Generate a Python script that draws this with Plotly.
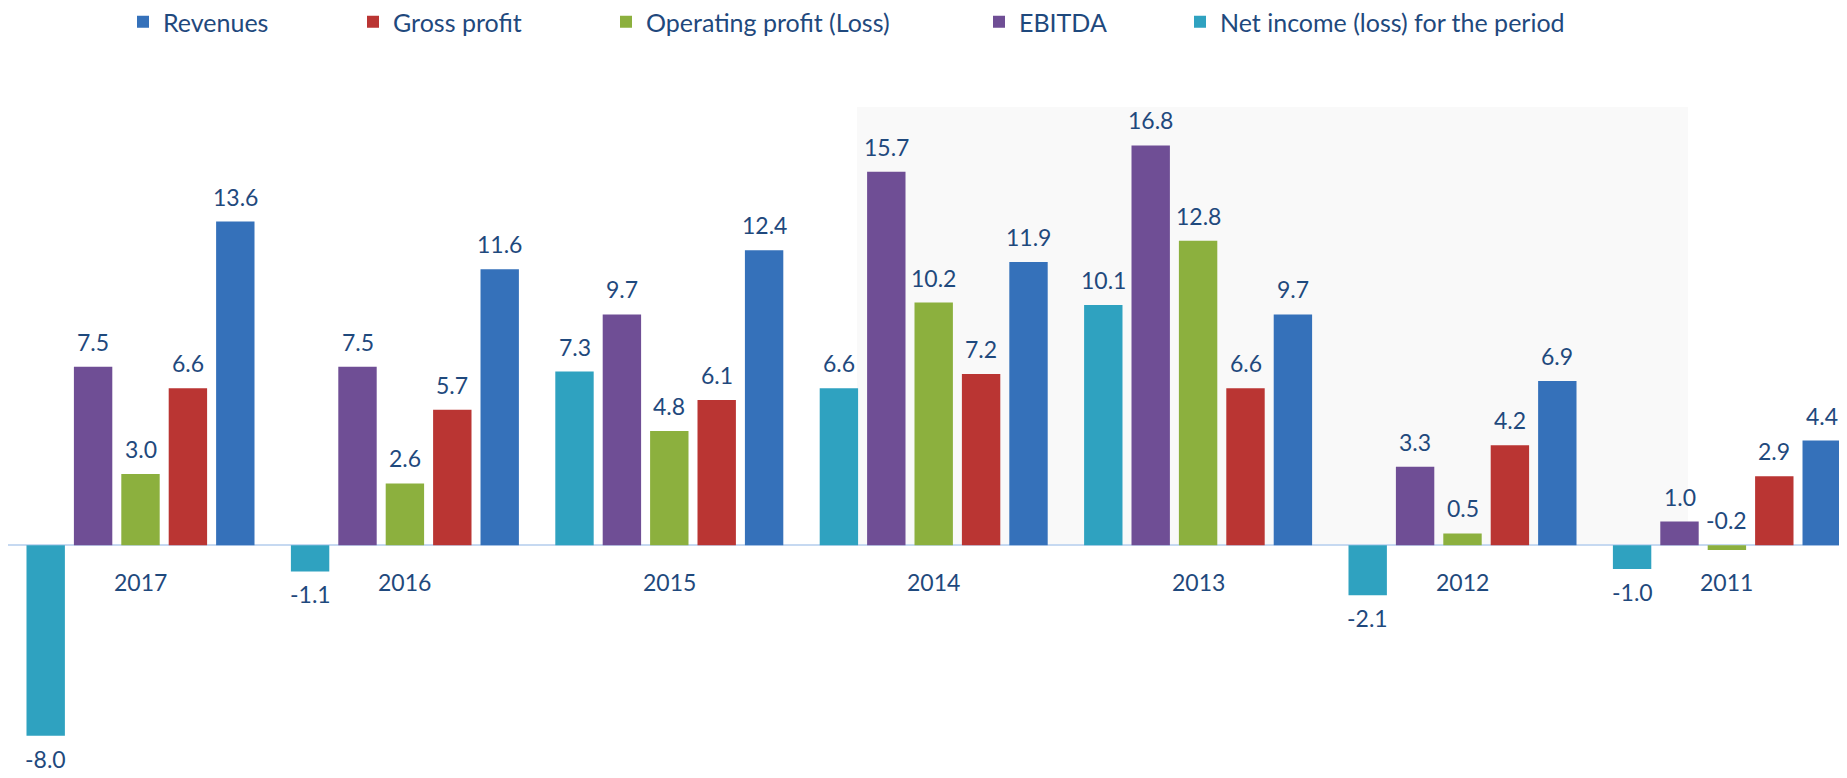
import plotly.graph_objects as go

# data
years = ["2017", "2016", "2015", "2014", "2013", "2012", "2011"]
net_income = [-8.0, -1.1, 7.3, 6.6, 10.1, -2.1, -1.0]
ebitda = [7.5, 7.5, 9.7, 15.7, 16.8, 3.3, 1.0]
operating_profit = [3.0, 2.6, 4.8, 10.2, 12.8, 0.5, -0.2]
gross_profit = [6.6, 5.7, 6.1, 7.2, 6.6, 4.2, 2.9]
revenues = [13.6, 11.6, 12.4, 11.9, 9.7, 6.9, 4.4]

TEXT_COLOR = "#1F497D"
FONT = "Lato"

# (name, values, colour, legend id, legend left edge in px)
series = [
    ("Net income (loss) for the period", net_income, "#2FA2C0", "legend5", 1172),
    ("EBITDA", ebitda, "#6F4E95", "legend4", 971),
    ("Operating profit (Loss)", operating_profit, "#8CB03E", "legend3", 598),
    ("Gross profit", gross_profit, "#BA3533", "legend2", 345),
    ("Revenues", revenues, "#3571BA", "legend", 115),
]

# the page body adds an 8px margin, so the figure is 8px smaller than the window
W, H = 1839, 770
ML, MR, MT, MB = 0, 0, 60, 0
ZERO_PX = 537.3        # zero line, px from top of figure
PX_PER_UNIT = 23.8
CAT_PX = 264.4         # width of one year slot
FIRST_CAT_PX = 132.5   # centre of the first year slot
BARGAP = 0.1036
GROUPGAP = 0.19

plot_w = W - ML - MR
plot_h = H - MT - MB
y_range = [-(H - MB - ZERO_PX) / PX_PER_UNIT, (ZERO_PX - MT) / PX_PER_UNIT]
x_range = [-(FIRST_CAT_PX - ML) / CAT_PX, (W - MR - FIRST_CAT_PX) / CAT_PX]

fig = go.Figure()
for name, vals, color, leg, _ in series:
    fig.add_trace(
        go.Bar(
            x=years,
            y=vals,
            name=name,
            marker_color=color,
            marker_line_width=0,
            legend=leg,
        )
    )

# value labels over each grouped bar; tiny negatives get their label above
# the zero line, like the original
n = len(series)
slot = (1 - BARGAP) / n
for k, (name, vals, color, leg, _) in enumerate(series):
    offset = -(1 - BARGAP) / 2 + slot * (k + 0.5)
    for i, v in enumerate(vals):
        above = v > -0.5
        fig.add_annotation(
            x=i + offset, y=max(v, 0) if above else v, xref="x", yref="y",
            text=f"{v:.1f}",
            showarrow=False,
            yanchor="bottom" if above else "top",
            yshift=9 if above else -7,
            font=dict(family=FONT, size=23, color=TEXT_COLOR),
        )

# year labels sit just under the zero line (x given as category index,
# since "2017" would otherwise be read as a number)
for i, yr in enumerate(years):
    fig.add_annotation(
        x=i, y=0, xref="x", yref="y", text=yr, showarrow=False,
        yanchor="middle", yshift=-37,
        font=dict(family=FONT, size=23, color=TEXT_COLOR),
    )

# faint background panel behind 2014-2012
fig.add_shape(
    type="rect", xref="paper", yref="paper",
    x0=(849 - ML) / plot_w, x1=(1680 - ML) / plot_w,
    y0=(H - MB - ZERO_PX) / plot_h, y1=(H - MB - 99) / plot_h,
    fillcolor="#F9F9F9", line_width=0, layer="below",
)

legends = {}
for name, vals, color, leg, lx in series:
    legends[leg] = dict(
        orientation="h",
        xref="container", yref="container",
        x=lx / W,
        xanchor="left",
        y=1 - 14 / H,
        yanchor="middle",
        font=dict(family=FONT, size=25, color=TEXT_COLOR),
        bgcolor="rgba(0,0,0,0)",
        itemclick=False,
    )

fig.update_layout(
    width=W,
    height=H,
    margin=dict(l=ML, r=MR, t=MT, b=MB, autoexpand=False),
    paper_bgcolor="white",
    plot_bgcolor="rgba(0,0,0,0)",
    barmode="group",
    bargap=BARGAP,
    bargroupgap=GROUPGAP,
    showlegend=True,
    font=dict(family=FONT, color=TEXT_COLOR),
    xaxis=dict(type="category", range=x_range,
               showticklabels=False, showgrid=False, showline=False, ticks=""),
    yaxis=dict(
        range=y_range, showticklabels=False, showgrid=False,
        zeroline=True, zerolinecolor="#C6D9F1", zerolinewidth=2,
    ),
    **legends,
)

fig.write_html("out.html")
